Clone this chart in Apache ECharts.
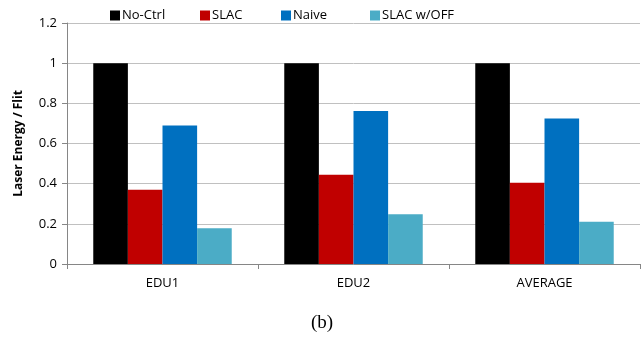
<!DOCTYPE html>
<html><head><meta charset="utf-8">
<script src="https://cdn.jsdelivr.net/npm/echarts@6/dist/echarts.min.js"></script>
<style>html,body{margin:0;padding:0;background:#fff}#c{width:644px;height:345px}</style>
</head><body><div id="c"></div>
<script>
const categories = ['EDU1', 'EDU2', 'AVERAGE'];
const seriesNames = ['No-Ctrl', 'SLAC', 'Naive', 'SLAC w/OFF'];
const noCtrl = [1, 1, 1];
const slac = [0.37, 0.445, 0.405];
const naive = [0.69, 0.762, 0.725];
const slacOff = [0.178, 0.248, 0.21];
const yTicks = [0, 0.2, 0.4, 0.6, 0.8, 1, 1.2];
const colors = ['#000000', '#C00000', '#0070C0', '#4BACC6'];
const values = [noCtrl, slac, naive, slacOff];
const legendLeft = [105, 195, 276, 365];

const font = '"Open Sans", "Noto Sans", sans-serif';
const chart = echarts.init(document.getElementById('c'), null, {renderer: 'canvas'});
chart.setOption({
  animation: false,
  legend: seriesNames.map((n, i) => ({
    data: [n], left: legendLeft[i], top: 4, itemWidth: 10, itemHeight: 10, itemGap: 2,
    icon: 'rect', textStyle: {fontFamily: font, fontSize: 13, color: '#000', padding: [0, 0, 0, -3]}
  })),
  grid: {left: 67, right: 4, top: 23, bottom: 81, containLabel: false, outerBoundsMode: 'none'},
  xAxis: {
    type: 'category', data: categories,
    axisLine: {lineStyle: {color: '#868686'}},
    axisTick: {show: true, length: 5, lineStyle: {color: '#868686'}},
    axisLabel: {fontFamily: font, fontSize: 13, color: '#000', margin: 13}
  },
  yAxis: {
    type: 'value', min: 0, max: 1.2, interval: 0.2,
    name: 'Laser Energy / Flit', nameLocation: 'middle', nameGap: 42,
    nameTextStyle: {fontFamily: font, fontSize: 12, fontWeight: 'bold', color: '#000'},
    axisLine: {show: true, lineStyle: {color: '#868686'}},
    axisTick: {show: true, length: 5, lineStyle: {color: '#868686'}},
    splitLine: {lineStyle: {color: '#c0c0c0'}},
    axisLabel: {fontFamily: font, fontSize: 13, color: '#000', margin: 10,
      formatter: v => { const t = yTicks.find(x => Math.abs(x - v) < 1e-9); return t === undefined ? '' : String(t); }}
  },
  series: seriesNames.map((n, i) => ({
    name: n, type: 'bar', data: values[i], barGap: '0%', barCategoryGap: '27.5%',
    itemStyle: {color: colors[i]}
  })),
  title: {text: '(b)', left: 'center', top: 309,
    textStyle: {fontFamily: '"Liberation Serif", "DejaVu Serif", serif', fontSize: 19, fontWeight: 'normal', color: '#000'}}
});
</script></body></html>
